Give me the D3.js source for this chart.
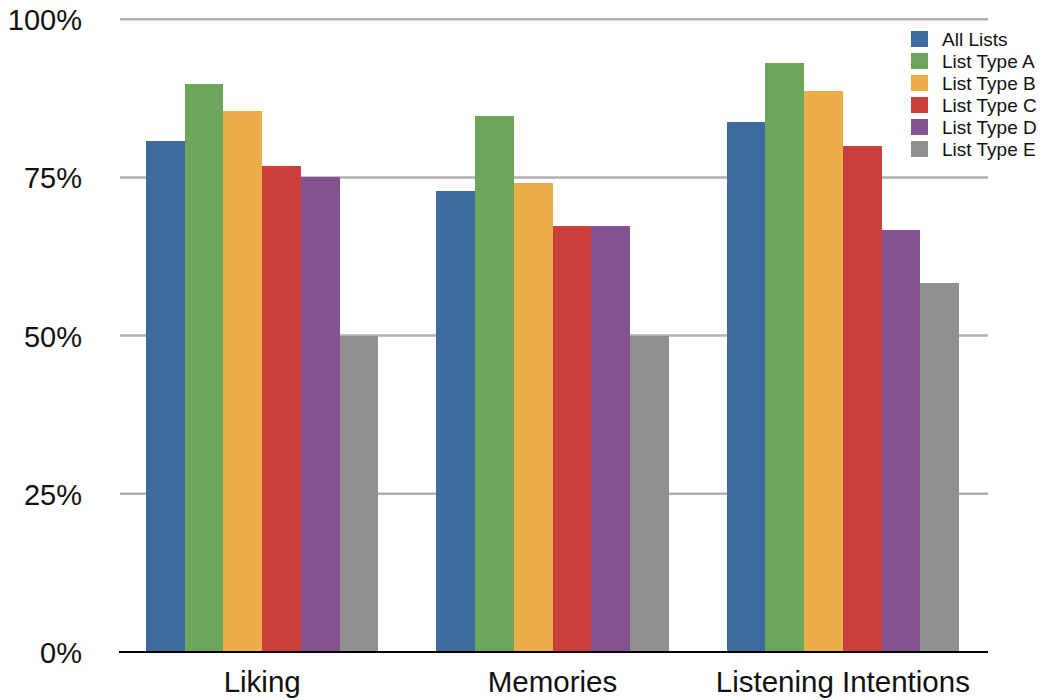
<!DOCTYPE html>
<html>
<head>
<meta charset="utf-8">
<script src="https://cdn.jsdelivr.net/npm/d3@7"></script>
<style>
  html, body { margin: 0; padding: 0; background: #fff; }
  svg text { font-family: "Liberation Sans", Arial, Helvetica, sans-serif; fill: #111; }
</style>
</head>
<body>
<svg id="chart" width="1044" height="700"></svg>
<script>
// Survey measures (x categories) and list types (series)
const categories = ["Liking", "Memories", "Listening Intentions"];
const seriesNames = ["All Lists", "List Type A", "List Type B", "List Type C", "List Type D", "List Type E"];
const seriesColors = ["#3d6b9e", "#6da55a", "#ecae4b", "#cb403d", "#845290", "#8f9190"];

// Percent values per series, in category order
const allLists  = [80.8, 72.8, 83.7];
const listTypeA = [89.7, 84.7, 93.0];
const listTypeB = [85.5, 74.1, 88.6];
const listTypeC = [76.8, 67.3, 79.9];
const listTypeD = [75.0, 67.3, 66.7];
const listTypeE = [50.0, 50.0, 58.3];
const seriesValues = [allLists, listTypeA, listTypeB, listTypeC, listTypeD, listTypeE];

const yTicks = [0, 25, 50, 75, 100];

const svg = d3.select("#chart");

const plotLeft = 120, plotRight = 988, plotTop = 19.2, plotBottom = 652;

const x0 = d3.scaleBand()
  .domain(categories)
  .range([117, plotRight])
  .paddingInner(0.2)
  .paddingOuter(0.1);

const x1 = d3.scaleBand()
  .domain(seriesNames)
  .range([0, x0.bandwidth()])
  .padding(0);

const y = d3.scaleLinear().domain([0, 100]).range([plotBottom, plotTop]);

const color = d3.scaleOrdinal().domain(seriesNames).range(seriesColors);

// Horizontal gridlines
svg.append("g")
  .selectAll("line")
  .data(yTicks.filter(t => t > 0))
  .join("line")
  .attr("x1", plotLeft)
  .attr("x2", plotRight)
  .attr("y1", d => y(d))
  .attr("y2", d => y(d))
  .attr("stroke", "#b1b1b1")
  .attr("stroke-width", 2.5);

// Y tick labels
svg.append("g")
  .selectAll("text")
  .data(yTicks)
  .join("text")
  .attr("x", 82)
  .attr("y", d => y(d) + 11)
  .attr("text-anchor", "end")
  .style("font-size", "29px")
  .text(d => d + "%");

// Bars
const rows = categories.map((c, i) => ({
  category: c,
  values: seriesNames.map((s, j) => ({ series: s, value: seriesValues[j][i] }))
}));

svg.append("g")
  .selectAll("g")
  .data(rows)
  .join("g")
  .attr("transform", d => `translate(${x0(d.category)},0)`)
  .selectAll("rect")
  .data(d => d.values)
  .join("rect")
  .attr("x", d => x1(d.series))
  .attr("width", x1.bandwidth())
  .attr("y", d => y(d.value))
  .attr("height", d => y(0) - y(d.value))
  .attr("fill", d => color(d.series))
  .attr("shape-rendering", "crispEdges");

// Baseline axis
svg.append("line")
  .attr("x1", 119)
  .attr("x2", plotRight)
  .attr("y1", y(0))
  .attr("y2", y(0))
  .attr("stroke", "#000")
  .attr("stroke-width", 2);

// Category labels
svg.append("g")
  .selectAll("text")
  .data(categories)
  .join("text")
  .attr("x", d => x0(d) + x0.bandwidth() / 2)
  .attr("y", 692)
  .attr("text-anchor", "middle")
  .style("font-size", "29.5px")
  .text(d => d);

// Legend
const legend = svg.append("g")
  .selectAll("g")
  .data(seriesNames)
  .join("g")
  .attr("transform", (d, i) => `translate(911, ${31 + i * 22})`);

legend.append("rect")
  .attr("width", 17)
  .attr("height", 16)
  .attr("fill", d => color(d));

legend.append("text")
  .attr("x", 31)
  .attr("y", 15)
  .style("font-size", "19px")
  .text(d => d);
</script>
</body>
</html>
